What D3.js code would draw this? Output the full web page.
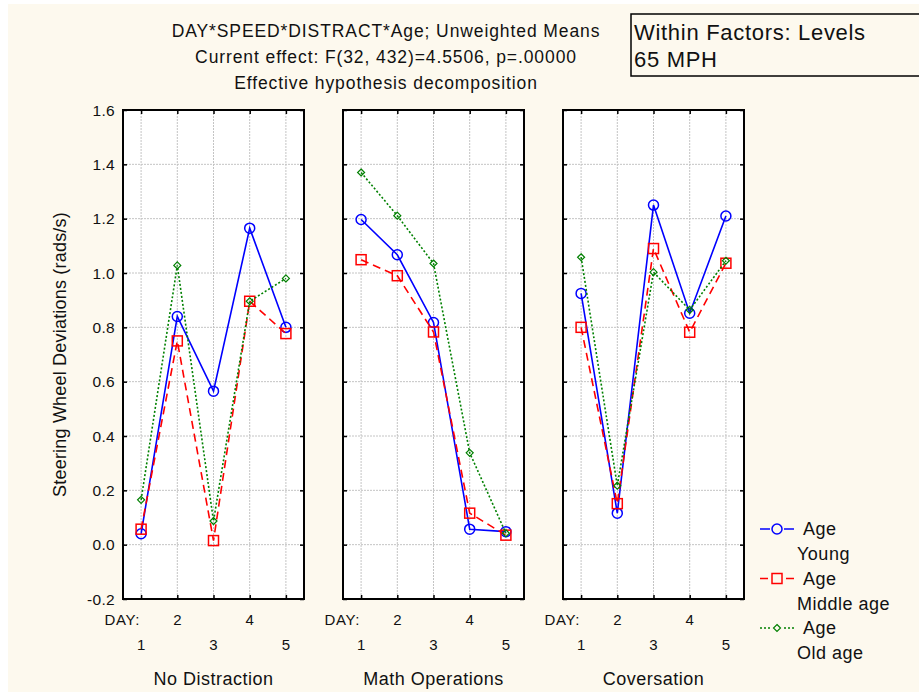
<!DOCTYPE html>
<html>
<head>
<meta charset="utf-8">
<script src="https://cdn.jsdelivr.net/npm/d3@7"></script>
<style>
  html, body { margin: 0; padding: 0; background: #fff; }
  svg { display: block; font-family: "Liberation Sans", Arial, sans-serif; }
</style>
</head>
<body>
<svg id="chart" width="919" height="692"></svg>
<script>
// values
var days = [1, 2, 3, 4, 5];
var panels = ['No Distraction', 'Math Operations', 'Coversation'];
var groups = ['Young', 'Middle age', 'Old age'];
var young  = [[0.04, 0.84, 0.565, 1.165, 0.80], [1.197, 1.067, 0.818, 0.057, 0.048], [0.925, 0.116, 1.25, 0.852, 1.21]];
var middle = [[0.057, 0.75, 0.015, 0.896, 0.777], [1.049, 0.99, 0.783, 0.116, 0.035], [0.80, 0.151, 1.09, 0.782, 1.036]];
var old    = [[0.165, 1.028, 0.087, 0.896, 0.98], [1.37, 1.211, 1.035, 0.338, 0.042], [1.058, 0.217, 1.003, 0.864, 1.045]];
var yTicks = [-0.2, 0.0, 0.2, 0.4, 0.6, 0.8, 1.0, 1.2, 1.4, 1.6];
var titleLines = ['DAY*SPEED*DISTRACT*Age; Unweighted Means',
                  'Current effect: F(32, 432)=4.5506, p=.00000',
                  'Effective hypothesis decomposition'];

var series = [
    {name: groups[0], vals: young,  color: '#0000ff', dash: null,  shape: 'circle'},
    {name: groups[1], vals: middle, color: '#ff0000', dash: '8,5', shape: 'square'},
    {name: groups[2], vals: old,    color: '#008000', dash: '2,2', shape: 'diamond'}
];

var svg = d3.select('#chart');
svg.append('rect').attr('x', 8).attr('y', 4).attr('width', 911).attr('height', 688).attr('fill', '#fdf9ee');

var panelLeft = [123, 343, 563], panelW = 181;
var y = d3.scaleLinear().domain([-0.2, 1.6]).range([599, 110]);
var fmt = function(d) { return d3.format('.1f')(d).replace('\u2212', '-'); };

var drawMarker = function(sel, shape, color) {
    if (shape === 'circle') {
        sel.append('circle').attr('r', 5).attr('fill', 'none').attr('stroke', color).attr('stroke-width', 1.5);
    } else if (shape === 'square') {
        sel.append('rect').attr('x', -5).attr('y', -5).attr('width', 10).attr('height', 10)
            .attr('fill', 'none').attr('stroke', color).attr('stroke-width', 1.5);
    } else {
        sel.append('path').attr('d', 'M0,-3.5L3.5,0L0,3.5L-3.5,0Z')
            .attr('fill', 'none').attr('stroke', color).attr('stroke-width', 1.2);
    }
};

panels.forEach(function(pname, pi) {
    var x = d3.scaleLinear().domain([0.5, 5.5]).range([panelLeft[pi], panelLeft[pi] + panelW]);
    var g = svg.append('g');

    g.append('rect').attr('x', x.range()[0]).attr('y', y.range()[1])
        .attr('width', panelW).attr('height', y.range()[0] - y.range()[1]).attr('fill', '#fff');

    // grid
    g.selectAll('.hgrid').data(yTicks.slice(1, -1)).enter().append('line')
        .attr('x1', x.range()[0]).attr('x2', x.range()[1])
        .attr('y1', function(d) { return y(d); }).attr('y2', function(d) { return y(d); })
        .attr('stroke', '#c4c4c4').attr('stroke-dasharray', '2,1');
    g.selectAll('.vgrid').data(days).enter().append('line')
        .attr('x1', function(d) { return x(d); }).attr('x2', function(d) { return x(d); })
        .attr('y1', y.range()[1]).attr('y2', y.range()[0])
        .attr('stroke', '#c4c4c4').attr('stroke-dasharray', '2,1');

    // ticks on all four sides, pointing in
    var yA = d3.axisLeft(y).tickValues(yTicks).tickSizeInner(-4).tickSizeOuter(0).tickFormat('');
    var yB = d3.axisRight(y).tickValues(yTicks).tickSizeInner(-4).tickSizeOuter(0).tickFormat('');
    var xA = d3.axisBottom(x).tickValues(days).tickSizeInner(-4).tickSizeOuter(0).tickFormat('');
    var xB = d3.axisTop(x).tickValues(days).tickSizeInner(-4).tickSizeOuter(0).tickFormat('');
    g.append('g').attr('transform', 'translate(' + x.range()[0] + ',0)').call(yA);
    g.append('g').attr('transform', 'translate(' + x.range()[1] + ',0)').call(yB);
    g.append('g').attr('transform', 'translate(0,' + y.range()[0] + ')').call(xA);
    g.append('g').attr('transform', 'translate(0,' + y.range()[1] + ')').call(xB);
    g.selectAll('.domain').remove();
    g.selectAll('.tick line').attr('stroke', '#000').attr('stroke-width', 1.5);

    g.append('rect').attr('x', x.range()[0]).attr('y', y.range()[1])
        .attr('width', panelW).attr('height', y.range()[0] - y.range()[1])
        .attr('fill', 'none').attr('stroke', '#000').attr('stroke-width', 2);

    if (pi === 0) {
        g.selectAll('.ylab').data(yTicks).enter().append('text')
            .attr('x', x.range()[0] - 8).attr('y', function(d) { return y(d) + 5.5; })
            .attr('text-anchor', 'end').attr('font-size', 15.5).attr('letter-spacing', 0.3).attr('fill', '#111')
            .text(fmt);
    }

    // day labels, staggered
    g.append('text').attr('x', x(1) - 1).attr('y', 625).attr('text-anchor', 'end')
        .attr('font-size', 15).attr('letter-spacing', 0.6).attr('fill', '#111').text('DAY:');
    g.selectAll('.dlab').data(days).enter().append('text')
        .attr('x', function(d) { return x(d); })
        .attr('y', function(d) { return d % 2 === 0 ? 625 : 650; })
        .attr('text-anchor', 'middle').attr('font-size', 15).attr('fill', '#111')
        .text(function(d) { return d; });

    g.append('text').attr('x', (x.range()[0] + x.range()[1]) / 2).attr('y', 685)
        .attr('text-anchor', 'middle').attr('font-size', 18).attr('letter-spacing', 0.5).attr('fill', '#111').text(pname);

    series.forEach(function(s) {
        var line = d3.line().x(function(d, i) { return x(days[i]); }).y(function(d) { return y(d); });
        g.append('path').datum(s.vals[pi]).attr('d', line).attr('fill', 'none')
            .attr('stroke', s.color).attr('stroke-width', 1.6)
            .attr('stroke-dasharray', s.dash);
        g.selectAll(null).data(s.vals[pi]).enter().append('g')
            .attr('transform', function(d, i) { return 'translate(' + x(days[i]) + ',' + y(d) + ')'; })
            .each(function() { drawMarker(d3.select(this), s.shape, s.color); });
    });
});

// y axis title
svg.append('text').attr('transform', 'translate(66,' + ((110 + 599) / 2) + ') rotate(-90)')
    .attr('text-anchor', 'middle').attr('font-size', 18).attr('letter-spacing', 0.2).attr('fill', '#111')
    .text('Steering Wheel Deviations (rads/s)');

// title
svg.selectAll('.title').data(titleLines).enter().append('text')
    .attr('x', 386).attr('y', function(d, i) { return [37, 63, 89][i]; })
    .attr('text-anchor', 'middle').attr('font-size', 17.5).attr('letter-spacing', 0.9).attr('fill', '#111')
    .text(function(d) { return d; });

// within factors box
svg.append('rect').attr('x', 631).attr('y', 14).attr('width', 300).attr('height', 62)
    .attr('fill', 'none').attr('stroke', '#000').attr('stroke-width', 1.5);
svg.append('text').attr('x', 634).attr('y', 40).attr('font-size', 22).attr('letter-spacing', 0.7).attr('fill', '#111').text('Within Factors: Levels');
svg.append('text').attr('x', 634).attr('y', 67).attr('font-size', 22).attr('letter-spacing', 0.7).attr('fill', '#111').text('65 MPH');

// legend
var leg = svg.append('g');
series.forEach(function(s, i) {
    var ly = 529 + i * 49.5;
    leg.append('line').attr('x1', 760).attr('x2', 794).attr('y1', ly).attr('y2', ly)
        .attr('stroke', s.color).attr('stroke-width', 1.6).attr('stroke-dasharray', s.dash);
    var m = leg.append('g').attr('transform', 'translate(777,' + ly + ')');
    m.append('rect').attr('x', -7).attr('y', -7).attr('width', 14).attr('height', 14).attr('fill', '#fdf9ee');
    drawMarker(m, s.shape, s.color);
    leg.append('text').attr('x', 803).attr('y', ly + 6).attr('font-size', 18).attr('letter-spacing', 0.5).attr('fill', '#111').text('Age');
    leg.append('text').attr('x', 797).attr('y', ly + 31).attr('font-size', 18).attr('letter-spacing', 0.5).attr('fill', '#111').text(s.name);
});
</script>
</body>
</html>
